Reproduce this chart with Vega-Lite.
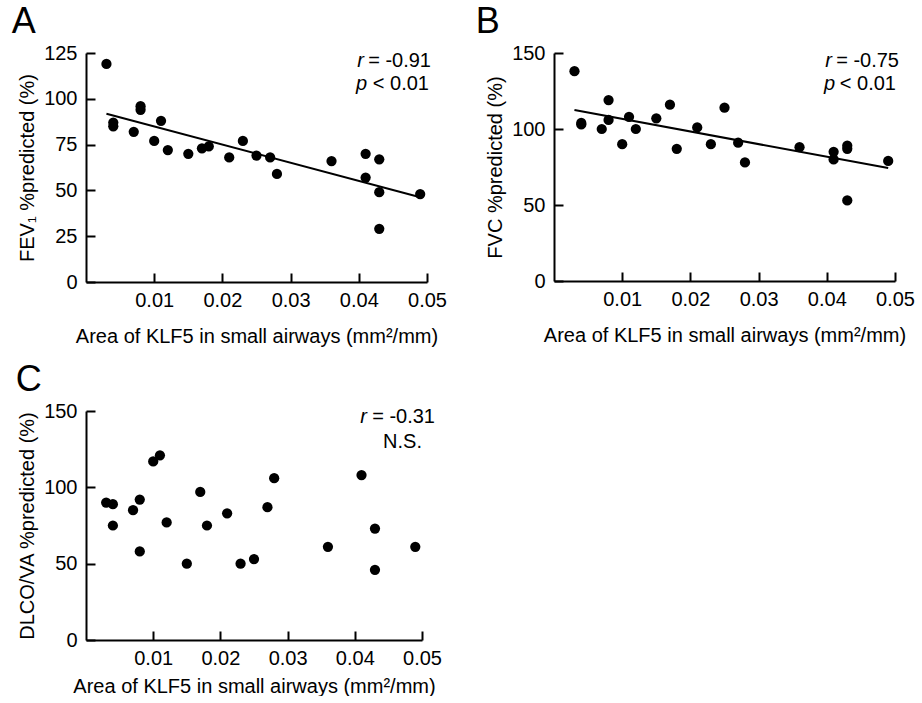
{
  "$schema": "https://vega.github.io/schema/vega-lite/v6.json",
  "background": "white",
  "padding": {"left": 11, "top": 4, "right": 0, "bottom": 0},
  "datasets": {
    "fev1": [
      {"area": 0.003, "value": 119}, {"area": 0.004, "value": 87}, {"area": 0.004, "value": 85},
      {"area": 0.007, "value": 82}, {"area": 0.008, "value": 96}, {"area": 0.008, "value": 94},
      {"area": 0.010, "value": 77}, {"area": 0.011, "value": 88}, {"area": 0.012, "value": 72},
      {"area": 0.015, "value": 70}, {"area": 0.017, "value": 73}, {"area": 0.018, "value": 74},
      {"area": 0.021, "value": 68}, {"area": 0.023, "value": 77}, {"area": 0.025, "value": 69},
      {"area": 0.027, "value": 68}, {"area": 0.028, "value": 59}, {"area": 0.036, "value": 66},
      {"area": 0.041, "value": 70}, {"area": 0.041, "value": 57}, {"area": 0.043, "value": 67},
      {"area": 0.043, "value": 49}, {"area": 0.043, "value": 29}, {"area": 0.049, "value": 48}
    ],
    "fvc": [
      {"area": 0.003, "value": 138}, {"area": 0.004, "value": 104}, {"area": 0.004, "value": 103},
      {"area": 0.007, "value": 100}, {"area": 0.008, "value": 119}, {"area": 0.008, "value": 106},
      {"area": 0.010, "value": 90}, {"area": 0.011, "value": 108}, {"area": 0.012, "value": 100},
      {"area": 0.015, "value": 107}, {"area": 0.017, "value": 116}, {"area": 0.018, "value": 87},
      {"area": 0.021, "value": 101}, {"area": 0.023, "value": 90}, {"area": 0.025, "value": 114},
      {"area": 0.027, "value": 91}, {"area": 0.028, "value": 78}, {"area": 0.036, "value": 88},
      {"area": 0.041, "value": 85}, {"area": 0.041, "value": 80}, {"area": 0.043, "value": 89},
      {"area": 0.043, "value": 87}, {"area": 0.043, "value": 53}, {"area": 0.049, "value": 79}
    ],
    "dlco": [
      {"area": 0.003, "value": 90}, {"area": 0.004, "value": 89}, {"area": 0.004, "value": 75},
      {"area": 0.007, "value": 85}, {"area": 0.008, "value": 92}, {"area": 0.008, "value": 58},
      {"area": 0.010, "value": 117}, {"area": 0.011, "value": 121}, {"area": 0.012, "value": 77},
      {"area": 0.015, "value": 50}, {"area": 0.017, "value": 97}, {"area": 0.018, "value": 75},
      {"area": 0.021, "value": 83}, {"area": 0.023, "value": 50}, {"area": 0.025, "value": 53},
      {"area": 0.027, "value": 87}, {"area": 0.028, "value": 106}, {"area": 0.036, "value": 61},
      {"area": 0.041, "value": 108}, {"area": 0.043, "value": 73}, {"area": 0.043, "value": 46},
      {"area": 0.049, "value": 61}
    ],
    "one": [{}]
  },
  "config": {
    "font": "Liberation Sans",
    "view": {"stroke": null},
    "text": {"fontWeight": "normal", "fill": "black", "fontSize": 20, "baseline": "middle", "align": "right"},
    "axis": {
      "grid": false,
      "domainColor": "black",
      "domainWidth": 2,
      "tickColor": "black",
      "tickWidth": 2,
      "tickSize": -9,
      "labelFlush": false,
      "labelOverlap": false,
      "labelFont": "Liberation Sans",
      "labelFontSize": 20,
      "labelColor": "black",
      "titleFont": "Liberation Sans",
      "titleFontSize": 20,
      "titleFontWeight": "normal",
      "titleColor": "black"
    },
    "axisX": {"labelPadding": 17, "titlePadding": 16},
    "axisY": {"labelPadding": 18, "titlePadding": 6},
    "title": {"anchor": "start", "frame": "bounds", "fontSize": 36, "fontWeight": "normal", "color": "black", "font": "Liberation Sans"}
  },
  "spacing": 16,
  "vconcat": [
    {
      "spacing": 28,
      "hconcat": [
        {
          "title": {"text": "A", "dx": -6, "offset": 2},
          "width": 341,
          "height": 229,
          "layer": [
            {
              "data": {"name": "fev1"},
              "mark": {"type": "circle", "size": 105, "opacity": 1, "fill": "black"},
              "encoding": {
                "x": {"field": "area", "type": "quantitative", "scale": {"domain": [0, 0.05], "nice": false}, "axis": {"values": [0.01, 0.02, 0.03, 0.04, 0.05], "format": ".2f", "title": "Area of KLF5 in small airways (mm²/mm)"}},
                "y": {"field": "value", "type": "quantitative", "scale": {"domain": [0, 125], "nice": false}, "axis": {"values": [0, 25, 50, 75, 100, 125], "title": "FEV₁ %predicted (%)"}}
              }
            },
            {
              "data": {"name": "fev1"},
              "transform": [{"regression": "value", "on": "area", "extent": [0.003, 0.049]}],
              "mark": {"type": "line", "color": "black", "strokeWidth": 2},
              "encoding": {
                "x": {"field": "area", "type": "quantitative"},
                "y": {"field": "value", "type": "quantitative"}
              }
            },
            {
              "data": {"name": "one"},
              "mark": {"type": "text", "dx": 4},
              "encoding": {"x": {"datum": 0.05}, "y": {"datum": 120.5}, "text": {"value": "= -0.91"}}
            },
            {
              "data": {"name": "one"},
              "mark": {"type": "text", "fontStyle": "italic", "dx": -63},
              "encoding": {"x": {"datum": 0.05}, "y": {"datum": 120.5}, "text": {"value": "r"}}
            },
            {
              "data": {"name": "one"},
              "mark": {"type": "text", "dx": 2},
              "encoding": {"x": {"datum": 0.05}, "y": {"datum": 108}, "text": {"value": "< 0.01"}}
            },
            {
              "data": {"name": "one"},
              "mark": {"type": "text", "fontStyle": "italic", "dx": -60},
              "encoding": {"x": {"datum": 0.05}, "y": {"datum": 108}, "text": {"value": "p"}}
            }
          ]
        },
        {
          "title": {"text": "B", "dx": -10, "offset": 2},
          "width": 341,
          "height": 228,
          "layer": [
            {
              "data": {"name": "fvc"},
              "mark": {"type": "circle", "size": 105, "opacity": 1, "fill": "black"},
              "encoding": {
                "x": {"field": "area", "type": "quantitative", "scale": {"domain": [0, 0.05], "nice": false}, "axis": {"values": [0.01, 0.02, 0.03, 0.04, 0.05], "format": ".2f", "title": "Area of KLF5 in small airways (mm²/mm)"}},
                "y": {"field": "value", "type": "quantitative", "scale": {"domain": [0, 150], "nice": false}, "axis": {"values": [0, 50, 100, 150], "title": "FVC %predicted (%)"}}
              }
            },
            {
              "data": {"name": "fvc"},
              "transform": [{"regression": "value", "on": "area", "extent": [0.003, 0.049]}],
              "mark": {"type": "line", "color": "black", "strokeWidth": 2},
              "encoding": {
                "x": {"field": "area", "type": "quantitative"},
                "y": {"field": "value", "type": "quantitative"}
              }
            },
            {
              "data": {"name": "one"},
              "mark": {"type": "text", "dx": 4},
              "encoding": {"x": {"datum": 0.05}, "y": {"datum": 144.5}, "text": {"value": "= -0.75"}}
            },
            {
              "data": {"name": "one"},
              "mark": {"type": "text", "fontStyle": "italic", "dx": -63},
              "encoding": {"x": {"datum": 0.05}, "y": {"datum": 144.5}, "text": {"value": "r"}}
            },
            {
              "data": {"name": "one"},
              "mark": {"type": "text", "dx": 1},
              "encoding": {"x": {"datum": 0.05}, "y": {"datum": 129.4}, "text": {"value": "< 0.01"}}
            },
            {
              "data": {"name": "one"},
              "mark": {"type": "text", "fontStyle": "italic", "dx": -60},
              "encoding": {"x": {"datum": 0.05}, "y": {"datum": 129.4}, "text": {"value": "p"}}
            }
          ]
        }
      ]
    },
    {
      "title": {"text": "C", "dx": -2, "offset": 2},
      "width": 336,
      "height": 229,
      "layer": [
        {
          "data": {"name": "dlco"},
          "mark": {"type": "circle", "size": 105, "opacity": 1, "fill": "black"},
          "encoding": {
            "x": {"field": "area", "type": "quantitative", "scale": {"domain": [0, 0.05], "nice": false}, "axis": {"values": [0.01, 0.02, 0.03, 0.04, 0.05], "format": ".2f", "titlePadding": 8, "title": "Area of KLF5 in small airways (mm²/mm)"}},
            "y": {"field": "value", "type": "quantitative", "scale": {"domain": [0, 150], "nice": false}, "axis": {"values": [0, 50, 100, 150], "title": "DLCO/VA %predicted (%)"}}
          }
        },
        {
          "data": {"name": "one"},
          "mark": {"type": "text", "dx": 13},
          "encoding": {"x": {"datum": 0.05}, "y": {"datum": 146.3}, "text": {"value": "= -0.31"}}
        },
        {
          "data": {"name": "one"},
          "mark": {"type": "text", "fontStyle": "italic", "dx": -55},
          "encoding": {"x": {"datum": 0.05}, "y": {"datum": 146.3}, "text": {"value": "r"}}
        },
        {
          "data": {"name": "one"},
          "mark": {"type": "text", "dx": 0},
          "encoding": {"x": {"datum": 0.05}, "y": {"datum": 130}, "text": {"value": "N.S."}}
        }
      ]
    }
  ]
}
